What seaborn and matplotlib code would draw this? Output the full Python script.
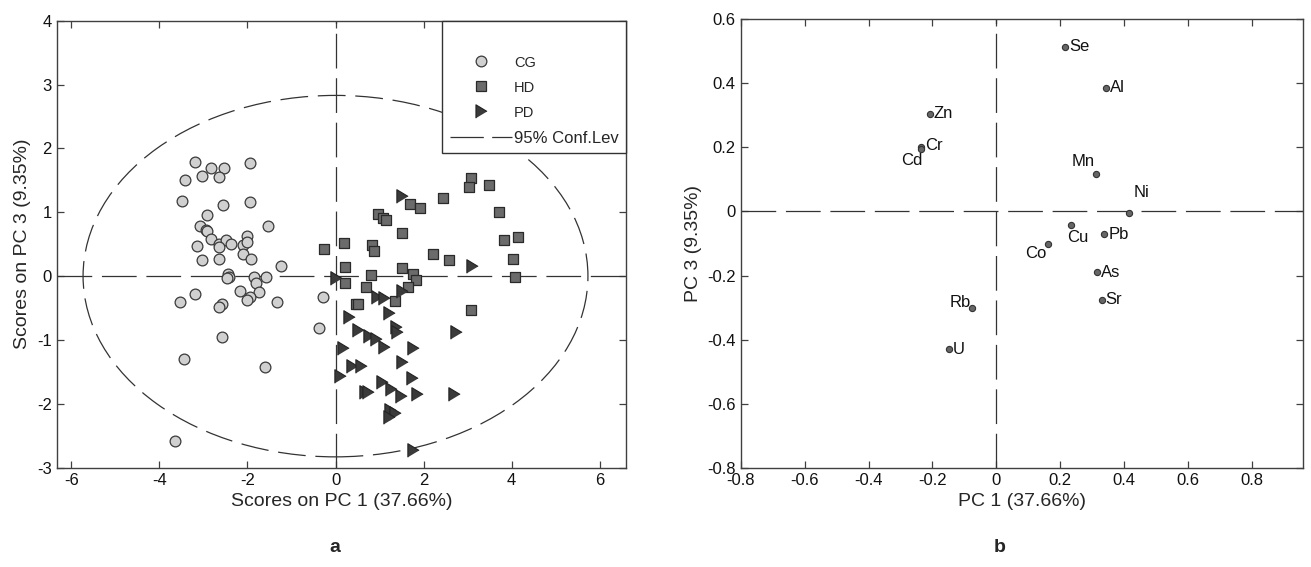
import matplotlib
matplotlib.use('Agg')
import numpy as np
import pandas as pd
import matplotlib.pyplot as plt
import seaborn as sns
from matplotlib.lines import Line2D
from matplotlib.patches import Ellipse

sns.set_style('ticks')
plt.rcParams['font.family'] = ['Liberation Sans', 'DejaVu Sans']
plt.rcParams['axes.unicode_minus'] = False
plt.rcParams['lines.scale_dashes'] = False

# scores plot (panel a)
cg_x = [-3.20, -2.82, -2.52, -1.95, -3.03, -2.64, -3.42, -3.48, -2.55, -1.95,
        -2.91, -1.54, -3.08, -2.94, -2.91, -2.82, -2.01, -3.15, -2.64, -2.49,
        -2.37, -2.64, -2.10, -2.01, -2.11, -1.92, -3.03, -2.64, -1.24, -2.43,
        -2.42, -2.46, -1.84, -1.58, -1.81, -2.16, -1.74, -1.95, -2.01, -3.20,
        -3.54, -2.58, -2.64, -1.33, -0.29, -0.38, -2.58, -3.44, -1.60, -3.65]
cg_y = [1.79, 1.69, 1.69, 1.77, 1.57, 1.55, 1.51, 1.18, 1.12, 1.16,
        0.96, 0.79, 0.79, 0.73, 0.70, 0.58, 0.63, 0.47, 0.51, 0.57,
        0.51, 0.45, 0.49, 0.53, 0.35, 0.27, 0.25, 0.27, 0.16, 0.04,
        -0.01, -0.03, -0.01, -0.02, -0.10, -0.23, -0.25, -0.32, -0.38, -0.28,
        -0.41, -0.44, -0.48, -0.41, -0.32, -0.81, -0.96, -1.30, -1.42, -2.58]

hd_x = [3.08, 3.02, 3.49, 2.45, 1.70, 1.92, 3.70, 0.97, 1.08, 1.14, 1.50,
        3.83, 4.15, -0.27, 0.19, 0.83, 0.87, 2.22, 2.57, 4.03, 0.22, 1.50,
        0.80, 1.77, 1.83, 4.07, 0.22, 0.70, 1.65, 1.36, 0.47, 0.52, 3.08]
hd_y = [1.54, 1.39, 1.43, 1.23, 1.13, 1.06, 1.00, 0.98, 0.91, 0.88, 0.68,
        0.57, 0.61, 0.43, 0.52, 0.49, 0.39, 0.35, 0.25, 0.27, 0.14, 0.12,
        0.02, 0.04, -0.06, -0.02, -0.10, -0.17, -0.17, -0.39, -0.43, -0.43, -0.53]

pd_x = [1.52, 0.00, 3.10, 0.95, 1.10, 1.52, 1.22, 0.30, 0.51, 0.76, 0.91,
        1.10, 1.38, 1.40, 2.73, 1.76, 0.17, 1.52, 0.38, 0.57, 0.11, 1.73,
        1.06, 1.27, 1.48, 1.84, 2.69, 0.67, 0.74, 1.23, 1.34, 1.21, 1.77]
pd_y = [1.25, -0.03, 0.16, -0.32, -0.35, -0.24, -0.57, -0.64, -0.84, -0.94, -0.99,
        -1.11, -0.79, -0.88, -0.87, -1.13, -1.13, -1.35, -1.41, -1.41, -1.57, -1.59,
        -1.65, -1.77, -1.87, -1.84, -1.84, -1.81, -1.81, -2.09, -2.14, -2.20, -2.73]

conf_a = 5.73   # half width of 95% ellipse
conf_b = 2.83   # half height

# loadings plot (panel b)
elements = ['Se', 'Al', 'Zn', 'Cr', 'Cd', 'Mn', 'Ni', 'Cu', 'Pb', 'Co', 'As', 'Sr', 'Rb', 'U']
pc1 = [0.214, 0.342, -0.209, -0.235, -0.237, 0.312, 0.416, 0.233, 0.337, 0.161, 0.315, 0.329, -0.076, -0.149]
pc3 = [0.514, 0.387, 0.305, 0.201, 0.194, 0.116, -0.006, -0.043, -0.071, -0.101, -0.190, -0.276, -0.301, -0.430]
# label offsets in points and alignment
lab_off = {'Se': (3, 0, 'left'), 'Al': (3, 0, 'left'), 'Zn': (3, 0, 'left'),
           'Cr': (3, 1, 'left'), 'Cd': (1, -8, 'right'), 'Mn': (-1, 9, 'right'),
           'Ni': (3, 15, 'left'), 'Cu': (-3, -9, 'left'), 'Pb': (3, 0, 'left'),
           'Co': (-1, -7, 'right'), 'As': (3, 0, 'left'), 'Sr': (3, 0, 'left'),
           'Rb': (-1, 4, 'right'), 'U': (3, 0, 'left')}

cg = pd.DataFrame({'x': cg_x, 'y': cg_y})
hd = pd.DataFrame({'x': hd_x, 'y': hd_y})
pdg = pd.DataFrame({'x': pd_x, 'y': pd_y})
load = pd.DataFrame({'el': elements, 'pc1': pc1, 'pc3': pc3})

tri = [(-0.83, -1), (-0.83, 1), (0.83, 0)]
dash_col = '#333333'

fig = plt.figure(figsize=(13.11, 5.67), dpi=100)
ax1 = fig.add_axes([0.0432, 0.1751, 0.4345, 0.7884])
ax2 = fig.add_axes([0.565, 0.1751, 0.4286, 0.7908])

# ---- panel a
ax1.axhline(0, color=dash_col, lw=0.9, dashes=(25, 7), zorder=1)
ax1.axvline(0, color=dash_col, lw=0.9, dashes=(25, 7), zorder=1)
ax1.add_patch(Ellipse((0, 0), 2 * conf_a, 2 * conf_b, fill=False, ec=dash_col,
                      lw=0.9, ls=(0, (20, 7)), zorder=1))

sns.scatterplot(data=cg, x='x', y='y', marker='o', s=60, color='#d0d0d0',
                edgecolor='#3a3a3a', linewidth=0.9, ax=ax1, zorder=3)
sns.scatterplot(data=hd, x='x', y='y', marker='s', s=55, color='#6b6b6b',
                edgecolor='#2a2a2a', linewidth=0.9, ax=ax1, zorder=3)
sns.scatterplot(data=pdg, x='x', y='y', marker=tri, s=95, color='#3a3a3a',
                edgecolor='#222222', linewidth=0.8, ax=ax1, zorder=3)

ax1.set_xlim(-6.33, 6.6)
ax1.set_ylim(-3, 4)
xt1 = [-6, -4, -2, 0, 2, 4, 6]
yt1 = [-3, -2, -1, 0, 1, 2, 3, 4]
ax1.set_xticks(xt1)
ax1.set_xticklabels([str(t) for t in xt1])
ax1.set_yticks(yt1)
ax1.set_yticklabels([str(t) for t in yt1])
ax1.set_xlabel('Scores on PC 1 (37.66%)', fontsize=14)
ax1.set_ylabel('Scores on PC 3 (9.35%)', fontsize=14)

handles = [
    Line2D([], [], marker='o', ls='', markersize=7.7, mfc='#d0d0d0', mec='#3a3a3a', mew=0.9),
    Line2D([], [], marker='s', ls='', markersize=7.4, mfc='#6b6b6b', mec='#2a2a2a', mew=0.9),
    Line2D([], [], marker=tri, ls='', markersize=9.6, mfc='#3a3a3a', mec='#222222', mew=0.8),
    Line2D([], [], color=dash_col, lw=0.9, dashes=(24, 6)),
]
leg = ax1.legend(handles, ['CG', 'HD', 'PD', '95% Conf.Lev'], loc='upper right',
                 borderaxespad=0, fancybox=False, framealpha=1, edgecolor='#333333',
                 fontsize=12, title=' ', title_fontsize=14, handlelength=3.7,
                 handletextpad=0.15, labelspacing=0.62, borderpad=0.45)
leg.get_frame().set_linewidth(1.0)
for t in leg.get_texts()[:3]:
    t.set_fontsize(10.5)

# ---- panel b
ax2.axhline(0, color=dash_col, lw=0.9, dashes=(25, 7), zorder=1)
ax2.axvline(0, color=dash_col, lw=0.9, dashes=(25, 7), zorder=1)
sns.scatterplot(data=load, x='pc1', y='pc3', s=20, color='#666666',
                edgecolor='#333333', linewidth=0.8, ax=ax2, zorder=3)
for el, xv, yv in zip(elements, pc1, pc3):
    dx, dy, ha = lab_off[el]
    ax2.annotate(el, (xv, yv), xytext=(dx, dy), textcoords='offset points',
                 ha=ha, va='center', fontsize=12, color='#111111')

ax2.set_xlim(-0.8, 0.958)
ax2.set_ylim(-0.8, 0.6)
xt2 = [-0.8, -0.6, -0.4, -0.2, 0, 0.2, 0.4, 0.6, 0.8]
yt2 = [-0.8, -0.6, -0.4, -0.2, 0, 0.2, 0.4, 0.6]
ax2.set_xticks(xt2)
ax2.set_xticklabels(['%g' % t for t in xt2])
ax2.set_yticks(yt2)
ax2.set_yticklabels(['%g' % t for t in yt2])
ax2.set_xlabel('PC 1 (37.66%)', fontsize=14)
ax2.set_ylabel('PC 3 (9.35%)', fontsize=14)

for ax in (ax1, ax2):
    ax.tick_params(direction='in', top=True, right=True, length=5, width=0.9,
                   labelsize=12, color='#404040', labelcolor='#111111')
    for sp in ax.spines.values():
        sp.set_visible(True)
        sp.set_color('#404040')
        sp.set_linewidth(1.0)

fig.text(0.2555, 0.035, 'a', fontsize=14, fontweight='bold', ha='center', va='center')
fig.text(0.7628, 0.035, 'b', fontsize=14, fontweight='bold', ha='center', va='center')

fig.savefig('out.png', dpi=100)
